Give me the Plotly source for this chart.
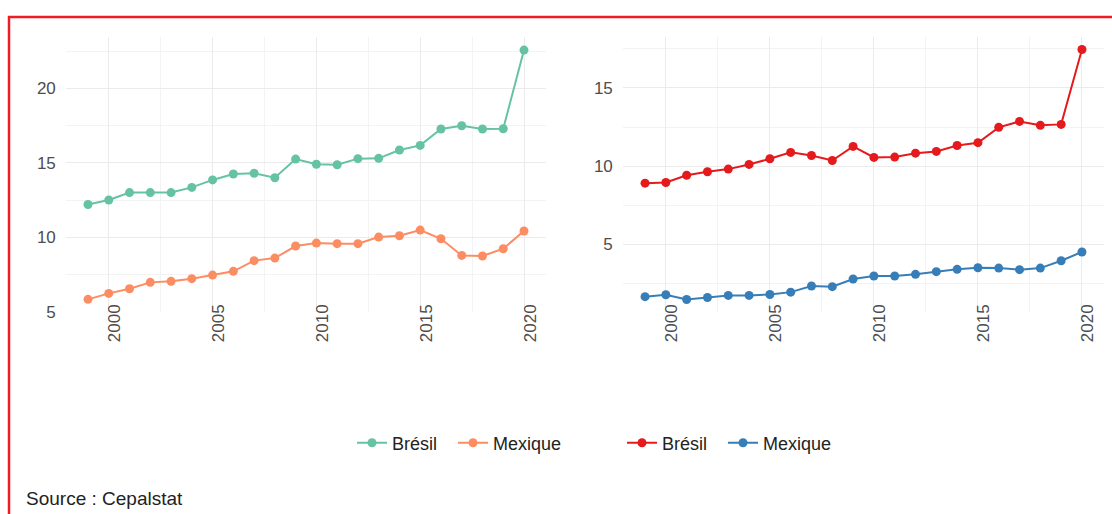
import plotly.graph_objects as go
from plotly.subplots import make_subplots

years = list(range(1999, 2021))

# Left panel
bresil_left = [12.2, 12.5, 13.0, 13.0, 13.0, 13.35, 13.85, 14.25, 14.3, 14.0, 15.25, 14.9,
               14.87, 15.28, 15.3, 15.86, 16.17, 17.27, 17.49, 17.27, 17.29, 22.57]
mexique_left = [5.83, 6.23, 6.54, 6.97, 7.04, 7.22, 7.46, 7.71, 8.43, 8.6, 9.41, 9.61,
                9.57, 9.57, 10.01, 10.1, 10.48, 9.9, 8.78, 8.74, 9.23, 10.42]

# Right panel
bresil_right = [8.91, 8.95, 9.42, 9.64, 9.81, 10.11, 10.47, 10.88, 10.68, 10.36, 11.26, 10.56,
                10.58, 10.83, 10.94, 11.32, 11.5, 12.48, 12.86, 12.61, 12.67, 17.46]
mexique_right = [1.65, 1.77, 1.47, 1.6, 1.73, 1.73, 1.79, 1.94, 2.33, 2.29, 2.78, 2.97,
                 2.97, 3.08, 3.25, 3.4, 3.5, 3.48, 3.38, 3.48, 3.95, 4.51]

series_names = ["Brésil", "Mexique", "Brésil", "Mexique"]
x_ticks = [2000, 2005, 2010, 2015, 2020]
y_ticks_left = [5, 10, 15, 20]
y_ticks_right = [5, 10, 15]
source_text = "Source : Cepalstat"

W, H = 1112, 514
def px(x):
    return x / W
def py(y):
    return 1 - y / H

fig = make_subplots(rows=1, cols=2)

colors = ["#66C2A5", "#FC8D62", "#E41A1C", "#377EB8"]
data = [bresil_left, mexique_left, bresil_right, mexique_right]
legends = ["legend", "legend2", "legend3", "legend4"]
for i, (vals, name, col, lg) in enumerate(zip(data, series_names, colors, legends)):
    fig.add_trace(go.Scatter(x=years, y=vals, name=name, mode="lines+markers",
                             line=dict(color=col, width=2),
                             marker=dict(color=col, size=9),
                             legend=lg, showlegend=True),
                  row=1, col=1 if i < 2 else 2)

tickfont = dict(family="Liberation Sans, Arial, sans-serif", size=17, color="#4D4D4D")
common_x = dict(range=[1997.95, 2021.05], tickvals=x_ticks, tickangle=-90,
                showgrid=True, gridcolor="#EBEBEB", gridwidth=1.3,
                minor=dict(dtick=2.5, tick0=2000, showgrid=True, gridcolor="#F3F3F3", gridwidth=1),
                zeroline=False, showline=False, ticks="", tickfont=tickfont,
                ticklabelstandoff=-12, ticklabelshift=6, automargin=False)
common_y = dict(showgrid=True, gridcolor="#EBEBEB", gridwidth=1.3,
                zeroline=False, showline=False, ticks="outside", ticklen=6,
                tickcolor="rgba(0,0,0,0)", tickfont=tickfont, automargin=False)

fig.update_xaxes(domain=[px(66.2), px(545.8)], row=1, col=1, **common_x)
fig.update_xaxes(domain=[px(623.2), px(1103.8)], row=1, col=2, **common_x)
fig.update_yaxes(domain=[py(312), py(37)], range=[4.98, 23.45], tickvals=y_ticks_left,
                 minor=dict(dtick=2.5, tick0=0, showgrid=True, gridcolor="#F3F3F3", gridwidth=1),
                 row=1, col=1, **common_y)
fig.update_yaxes(domain=[py(312), py(37)], range=[0.67, 18.26], tickvals=y_ticks_right,
                 minor=dict(dtick=2.5, tick0=0, showgrid=True, gridcolor="#F3F3F3", gridwidth=1),
                 row=1, col=2, **common_y)

legfont = dict(family="Liberation Sans, Arial, sans-serif", size=18, color="#222222")
leg_x = [352, 453, 622, 723]
layout_legends = {}
for lg, lx in zip(legends, leg_x):
    layout_legends[lg] = dict(x=px(lx), y=py(443), xanchor="left", yanchor="middle",
                              orientation="h", font=legfont, bgcolor="rgba(0,0,0,0)",
                              borderwidth=0)

fig.update_layout(
    width=W, height=H,
    margin=dict(l=0, r=0, t=0, b=0),
    paper_bgcolor="white", plot_bgcolor="white",
    **layout_legends,
    annotations=[dict(text=source_text, x=px(24), y=py(498), xref="paper", yref="paper",
                      xanchor="left", yanchor="middle", showarrow=False,
                      font=dict(family="Liberation Sans, Arial, sans-serif", size=19, color="#222222"))],
    shapes=[dict(type="rect", xref="paper", yref="paper", x0=px(9), x1=1.05,
                 y0=-0.1, y1=py(17), line=dict(color="#EE1C25", width=2.5),
                 fillcolor="rgba(0,0,0,0)", layer="above")],
)

fig.write_html("out.html", config={"displayModeBar": False},
               post_script="document.body.style.margin='0';document.body.style.overflow='hidden';")
